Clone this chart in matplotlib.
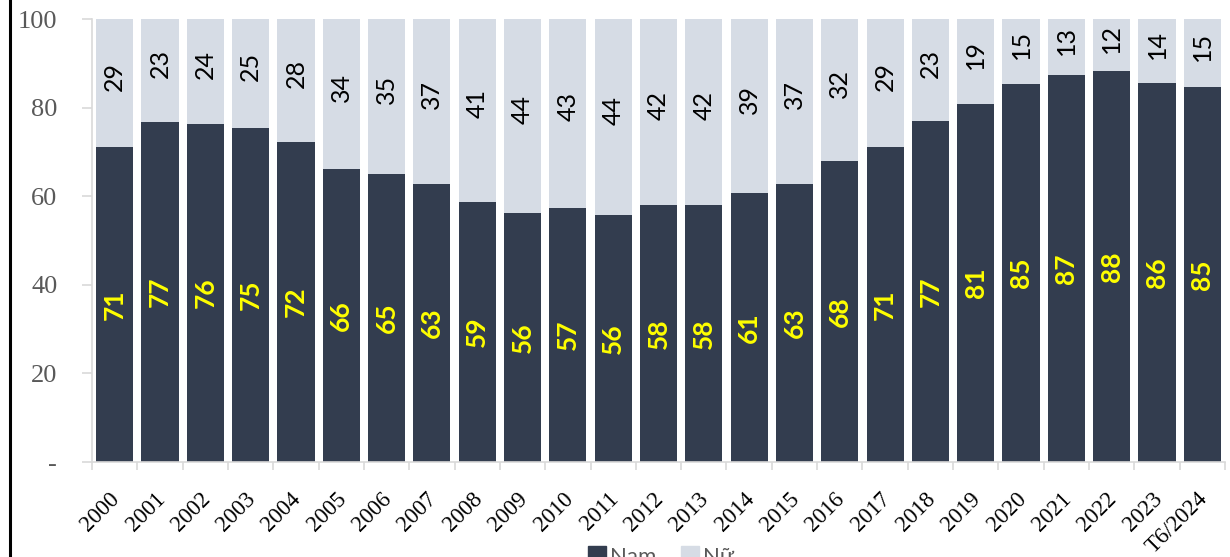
import matplotlib
matplotlib.use("Agg")
import matplotlib.pyplot as plt
from matplotlib.lines import Line2D

years = ["2000", "2001", "2002", "2003", "2004", "2005", "2006", "2007", "2008",
         "2009", "2010", "2011", "2012", "2013", "2014", "2015", "2016", "2017",
         "2018", "2019", "2020", "2021", "2022", "2023", "T6/2024"]
nam = [71.1, 76.7, 76.4, 75.4, 72.2, 66.2, 65.0, 62.8, 58.7, 56.2, 57.3, 55.8, 58.0,
       58.0, 60.7, 62.8, 68.0, 71.1, 77.0, 80.8, 85.3, 87.4, 88.3, 85.6, 84.6]
nu = [28.9, 23.3, 23.6, 24.6, 27.8, 33.8, 35.0, 37.2, 41.3, 43.8, 42.7, 44.2, 42.0,
      42.0, 39.3, 37.2, 32.0, 28.9, 23.0, 19.2, 14.7, 12.6, 11.7, 14.4, 15.4]
yticks = [0, 20, 40, 60, 80, 100]
ytick_labels = ["-", "20", "40", "60", "80", "100"]

c_nam = "#333d4f"
c_nu = "#d6dce5"
gray = "#595959"
axis_c = "#d9d9d9"

fig = plt.figure(figsize=(12.3, 5.57), dpi=100)
ax = fig.add_axes([92 / 1230, 1 - 462 / 557, (1225 - 92) / 1230, 443 / 557])

x = list(range(len(years)))
ax.bar(x, nam, width=0.82, color=c_nam, zorder=2)
ax.bar(x, nu, width=0.82, bottom=nam, color=c_nu, zorder=2)

for i in x:
    ax.text(i, nam[i] / 2, f"{nam[i]:.0f}", rotation=90, ha="center", va="center",
            color="#ffff00", fontsize=19, fontweight="bold", family="Lato")
    ax.text(i, nam[i] + nu[i] / 2 + 1.5, f"{nu[i]:.0f}", rotation=90, ha="center",
            va="center", color="black", fontsize=18, family="Lato")
    # category labels, rotated, hanging under the axis
    ax.annotate(years[i], xy=(i, 0), xycoords=("data", "axes fraction"),
                xytext=(-4, -19), textcoords="offset points", rotation=45,
                ha="right", va="top", rotation_mode="anchor",
                family="Liberation Serif", fontsize=16.5, color="black",
                annotation_clip=False)

ax.set_xlim(-0.5, len(years) - 0.5)
ax.set_ylim(0, 100)
ax.set_yticks(yticks)
ax.set_yticklabels(ytick_labels, family="Liberation Serif", fontsize=19, color=gray)
ax.tick_params(axis="y", length=7, color=axis_c, width=1.2, pad=18)

ax.set_xticks([i - 0.5 for i in range(len(years) + 1)])
ax.set_xticklabels([])
ax.tick_params(axis="x", length=6, color=axis_c, width=1.2)

for s in ["top", "right"]:
    ax.spines[s].set_visible(False)
for s in ["left", "bottom"]:
    ax.spines[s].set_color(axis_c)
    ax.spines[s].set_linewidth(1.2)

# chart border clipped on the left
fig.add_artist(Line2D([10 / 1230, 10 / 1230], [0, 1], color="black", lw=2.2))

handles = [Line2D([], [], marker="s", ls="", color=c_nam, markersize=13),
           Line2D([], [], marker="s", ls="", color=c_nu, markersize=13)]
leg = fig.legend(handles, ["Nam", "Nữ"], loc="center", ncol=2,
                 bbox_to_anchor=(660 / 1230, 1 - 557 / 557), frameon=False,
                 prop={"family": "Lato", "size": 16}, handletextpad=0.1,
                 columnspacing=1.0, handlelength=1.0)
for t in leg.get_texts():
    t.set_color(gray)

fig.savefig("out.png", dpi=100)
